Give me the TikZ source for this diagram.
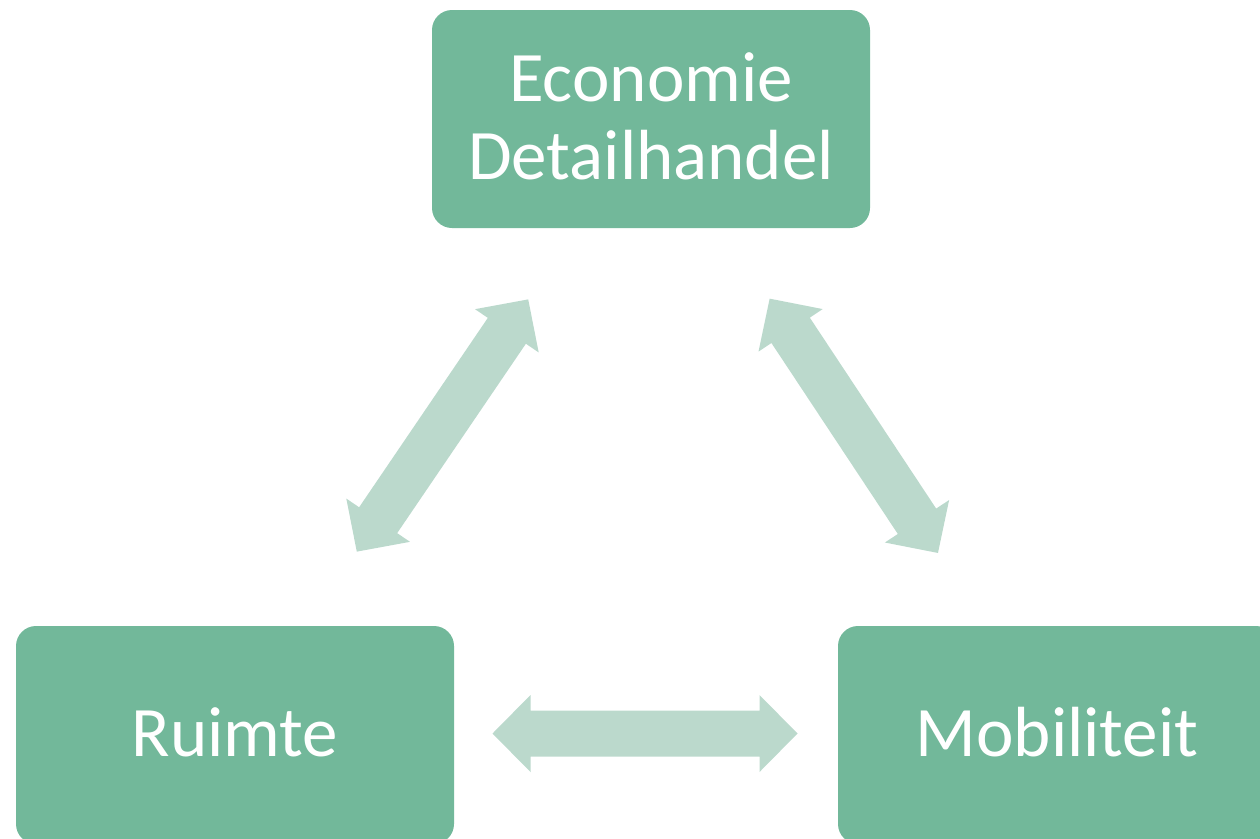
\documentclass[tikz,border=0pt]{standalone}
\usepackage{fontspec}
\setmainfont{Carlito}
\definecolor{boxgreen}{HTML}{72B89A}
\definecolor{arrowgreen}{HTML}{BBD9CC}
\tikzset{
  topic/.style={fill=boxgreen, draw=none, rounded corners=20pt,
    minimum width=438pt, minimum height=218pt, inner sep=0pt,
    text=white, align=center,
    font=\fontsize{71}{78}\selectfont},
  label/.style={text=white, align=center, inner sep=0pt,
    font=\fontsize{71}{78}\selectfont},
  pics/blockarrow/.style={code={
    \fill[arrowgreen] (-152.5,0) -- (-114.5,38.5) -- (-114.5,23) -- (114.5,23)
      -- (114.5,38.5) -- (152.5,0) -- (114.5,-38.5) -- (114.5,-23)
      -- (-114.5,-23) -- (-114.5,-38.5) -- cycle;
  }}
}
\begin{document}
\begin{tikzpicture}[x=1pt,y=-1pt]
  \useasboundingbox (0,0) rectangle (1260,838);
  \clip (0,0) rectangle (1260,838);
  % the three topics (boxes, with their labels set slightly above centre)
  \node[topic] (econ) at (651,119) {};
  \node[label] at ([yshift=3pt]econ.center) {Economie\\Detailhandel};
  \node[topic] (ruimte) at (235,735) {};
  \node[label] at ([yshift=3pt]ruimte.center) {Ruimte};
  \node[topic] (mob) at (1057,735) {};
  \node[label] at ([yshift=3pt]mob.center) {Mobiliteit};
  % two-way relations between them
  \pic[shift={(442.5,425.5)}, rotate=55.8] {blockarrow};
  \pic[shift={(853.8,425.8)}, rotate=-56.5] {blockarrow};
  \pic[shift={(645,733.5)}] {blockarrow};
\end{tikzpicture}
\end{document}
